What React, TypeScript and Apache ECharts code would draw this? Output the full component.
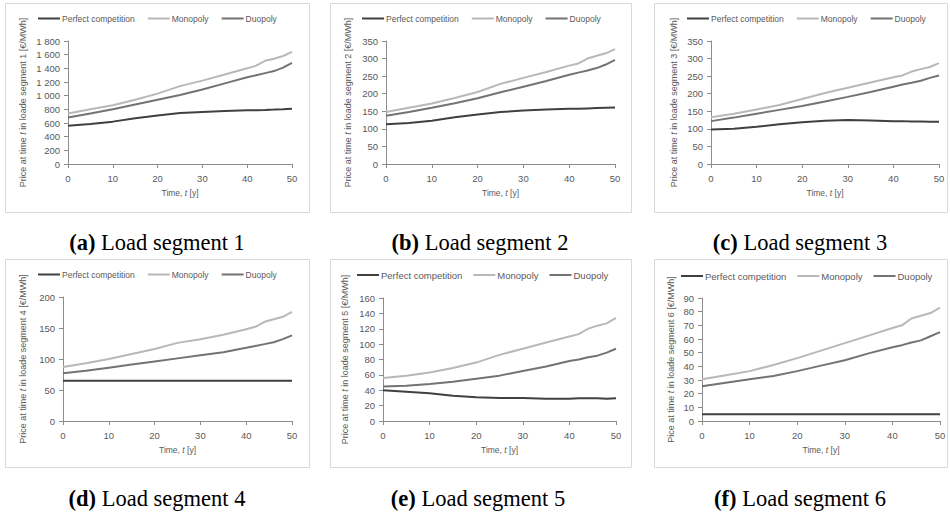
import React, { useEffect, useRef } from "react";
import * as echarts from "echarts";

const years = [0, 5, 10, 15, 20, 25, 30, 35, 40, 42, 44, 46, 48, 50];
const seriesNames = ["Perfect competition", "Monopoly", "Duopoly"];
const seriesColors = ["#404040", "#b8b8b8", "#737373"];

const perfect1 = [560, 585, 620, 670, 710, 745, 760, 775, 785, 788, 792, 797, 803, 810];
const monopoly1 = [740, 800, 860, 940, 1030, 1140, 1220, 1310, 1400, 1440, 1510, 1540, 1580, 1640];
const duopoly1 = [680, 740, 800, 870, 940, 1010, 1090, 1180, 1270, 1300, 1330, 1360, 1410, 1480];

const perfect2 = [113, 117, 123, 133, 141, 148, 152, 155, 157, 157, 158, 159, 160, 161];
const monopoly2 = [148, 160, 172, 188, 205, 228, 245, 262, 280, 286, 300, 308, 315, 327];
const duopoly2 = [137, 148, 160, 173, 187, 204, 220, 236, 254, 260, 266, 273, 283, 296];

const perfect3 = [98, 100, 106, 113, 119, 123, 125, 124, 122, 122, 121, 121, 120, 120];
const monopoly3 = [133, 143, 155, 168, 185, 202, 217, 232, 247, 252, 263, 270, 276, 287];
const duopoly3 = [122, 132, 143, 154, 165, 178, 191, 205, 220, 226, 231, 237, 245, 252];

const perfect4 = [65, 65, 65, 65, 65, 65, 65, 65, 65, 65, 65, 65, 65, 65];
const monopoly4 = [87, 93, 100, 108, 116, 126, 132, 139, 148, 152, 160, 164, 168, 176];
const duopoly4 = [77, 81, 86, 91, 96, 101, 106, 111, 118, 121, 124, 127, 132, 138];

const perfect5 = [40, 38, 36, 33, 31, 30, 30, 29, 29, 29.5, 29.5, 29.5, 29, 29.5];
const monopoly5 = [56, 59, 63, 69, 76, 86, 94, 102, 110, 113, 120, 124, 127, 134];
const duopoly5 = [45, 46, 48, 51, 55, 59, 65, 71, 78, 80, 83, 85, 89, 94];

const perfect6 = [5, 5, 5, 5, 5, 5, 5, 5, 5, 5, 5, 5, 5, 5];
const monopoly6 = [30.5, 33.5, 36.5, 41, 46, 51.5, 57, 62.5, 68, 70, 75, 77, 79, 83];
const duopoly6 = [25.5, 28, 30.5, 33, 36.5, 40.5, 44.5, 49.5, 54, 55.5, 57.5, 59, 62, 65];

const yMax = [1800, 350, 350, 200, 160, 90];
const yInterval = [200, 50, 50, 50, 20, 10];
const yPrefixes = ["Price", "Price", "Price", "Price", "Price", "Pice"];
const captionLetters = ["(a)", "(b)", "(c)", "(d)", "(e)", "(f)"];
const captionTexts = [" Load segment 1", " Load segment 2", " Load segment 3", " Load segment 4", " Load segment 5", " Load segment 6"];

const panelData = [
  [perfect1, monopoly1, duopoly1],
  [perfect2, monopoly2, duopoly2],
  [perfect3, monopoly3, duopoly3],
  [perfect4, monopoly4, duopoly4],
  [perfect5, monopoly5, duopoly5],
  [perfect6, monopoly6, duopoly6],
];

// layout
const grids = [
  { left: 68, top: 41, width: 224, height: 123 },
  { left: 386, top: 41, width: 229, height: 123 },
  { left: 711, top: 41, width: 228, height: 123 },
  { left: 63, top: 297, width: 229, height: 124 },
  { left: 383, top: 298, width: 233, height: 123 },
  { left: 702, top: 298, width: 238, height: 123 },
];
const yNameGaps = [41, 34, 33, 36, 34, 27];
const legendPos = [
  { left: 38, top: 14, size: 8.5, gap: 13 },
  { left: 362, top: 14, size: 8.5, gap: 13 },
  { left: 687, top: 14, size: 8.5, gap: 13 },
  { left: 38, top: 270, size: 8.5, gap: 13 },
  { left: 357, top: 270, size: 9.5, gap: 11 },
  { left: 681, top: 271, size: 9.5, gap: 11 },
];
const frames = [
  { x: 5, y: 3, w: 304, h: 209 },
  { x: 330, y: 3, w: 301, h: 209 },
  { x: 654, y: 3, w: 293, h: 209 },
  { x: 5, y: 259, w: 304, h: 208 },
  { x: 330, y: 259, w: 301, h: 208 },
  { x: 654, y: 259, w: 293, h: 208 },
];
const captionPos = [
  { x: 157, y: 242 },
  { x: 480, y: 242 },
  { x: 800, y: 242 },
  { x: 157, y: 498 },
  { x: 478, y: 498 },
  { x: 800, y: 498 },
];

const FONT = "Liberation Sans, Arial, sans-serif";
const SERIF = "Liberation Serif, Times New Roman, serif";
const TEXT = "#595959";
const AXIS = "#8c8c8c";

export default function App() {
  const ref = useRef<HTMLDivElement>(null);
  useEffect(() => {
    if (!ref.current) return;
    const chart = echarts.init(ref.current, undefined, { renderer: "svg" });
    const xAxis: any[] = [];
    const yAxis: any[] = [];
    const series: any[] = [];
    const legend: any[] = [];
    const graphic: any[] = [];
    grids.forEach((g, i) => {
      xAxis.push({
        type: "value",
        gridIndex: i,
        min: 0,
        max: 50,
        interval: 10,
        name: "{n|Time, }{i|t}{n| [y]}",
        nameLocation: "middle",
        nameGap: 24,
        nameTextStyle: {
          rich: {
            n: { fontFamily: FONT, fontSize: 8.5, color: TEXT },
            i: { fontFamily: FONT, fontSize: 8.5, color: TEXT, fontStyle: "italic" },
          },
        },
        axisLine: { show: true, lineStyle: { color: AXIS, width: 1 } },
        axisTick: { show: true, length: 4, lineStyle: { color: AXIS } },
        axisLabel: { color: TEXT, fontFamily: FONT, fontSize: 9.5, margin: 9 },
        splitLine: { show: false },
      });
      yAxis.push({
        type: "value",
        gridIndex: i,
        min: 0,
        max: yMax[i],
        interval: yInterval[i],
        name:
          "{n|" + yPrefixes[i] + " at time }{i|t}{n| in loade segment " + (i + 1) + " [€/MWh]}",
        nameLocation: "middle",
        nameGap: yNameGaps[i],
        nameTextStyle: {
          rich: {
            n: { fontFamily: FONT, fontSize: 9, color: TEXT },
            i: { fontFamily: FONT, fontSize: 9, color: TEXT, fontStyle: "italic" },
          },
        },
        axisLine: { show: true, lineStyle: { color: AXIS, width: 1 } },
        axisTick: { show: true, length: 4, lineStyle: { color: AXIS } },
        axisLabel: {
          color: TEXT,
          fontFamily: FONT,
          fontSize: 9.5,
          margin: 8,
          formatter: (v: number) => String(v).replace(/\B(?=(\d{3})+(?!\d))/g, " "),
        },
        splitLine: { show: false },
      });
      panelData[i].forEach((vals, k) => {
        series.push({
          type: "line",
          name: seriesNames[k],
          xAxisIndex: i,
          yAxisIndex: i,
          data: years.map((y, j) => [y, vals[j]]),
          showSymbol: false,
          symbol: "none",
          color: seriesColors[k],
          lineStyle: { color: seriesColors[k], width: 2 },
          z: k === 0 ? 4 : k === 2 ? 3 : 2,
        });
      });
      const lp = legendPos[i];
      legend.push({
        data: seriesNames,
        left: lp.left,
        top: lp.top,
        padding: 0,
        itemGap: lp.gap,
        itemWidth: 22,
        itemHeight: 2,
        icon: "rect",
        selectedMode: false,
        textStyle: { color: TEXT, fontFamily: FONT, fontSize: lp.size, padding: [0, 0, 0, -3] },
      });
      const f = frames[i];
      graphic.push({
        type: "rect",
        silent: true,
        z: -10,
        shape: { x: f.x + 0.5, y: f.y + 0.5, width: f.w, height: f.h },
        style: { fill: "none", stroke: "#d9d9d9", lineWidth: 1 },
      });
      const c = captionPos[i];
      graphic.push({
        type: "text",
        silent: true,
        x: c.x,
        y: c.y,
        style: {
          text: "{b|" + captionLetters[i] + "}{r|" + captionTexts[i] + "}",
          align: "center",
          verticalAlign: "middle",
          rich: {
            b: { fontFamily: SERIF, fontSize: 22.5, fontWeight: "bold", fill: "#000" },
            r: { fontFamily: SERIF, fontSize: 22.5, fill: "#000" },
          },
        },
      });
    });
    chart.setOption({
      animation: false,
      backgroundColor: "#ffffff",
      grid: grids.map((g) => ({ ...g, containLabel: false })),
      xAxis,
      yAxis,
      series,
      legend,
      graphic,
    });
    return () => chart.dispose();
  }, []);
  return (
    <div
      ref={ref}
      style={{ position: "absolute", left: 0, top: 0, width: 950, height: 515 }}
    />
  );
}
